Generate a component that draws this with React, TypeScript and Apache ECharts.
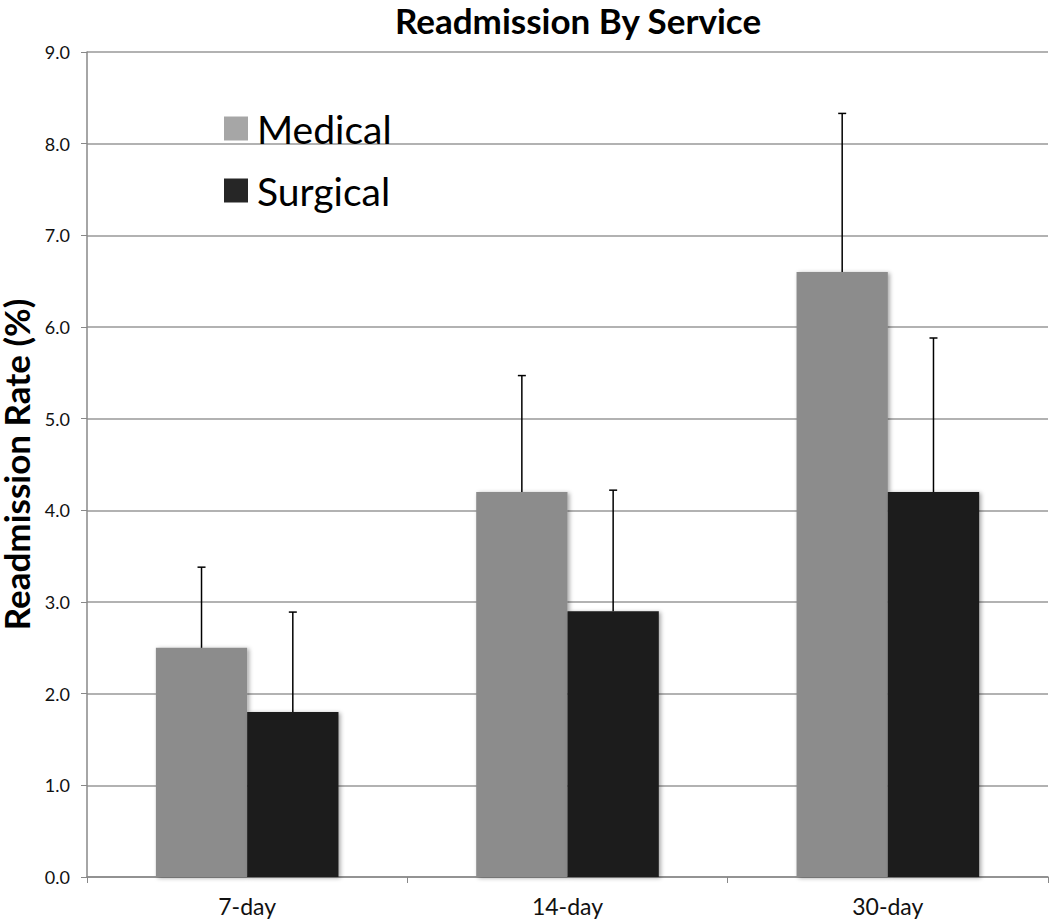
import React, { useEffect, useRef } from "react";
import * as echarts from "echarts";

const categories = ["7-day", "14-day", "30-day"];
const medical = [2.5, 4.2, 6.6];
const medicalErrTop = [3.38, 5.47, 8.33];
const surgical = [1.8, 2.9, 4.2];
const surgicalErrTop = [2.89, 4.22, 5.88];
const yTicks = [0, 1, 2, 3, 4, 5, 6, 7, 8, 9];

const FONT = "Lato";
const GAP = 0.43;

function errRender(side: number) {
  return (params: any, api: any) => {
    const x = api.value(0);
    const lo = api.coord([x, api.value(1)]);
    const hi = api.coord([x, api.value(2)]);
    const band = api.size([1, 0])[0];
    const bw = (band * (1 - GAP)) / 2;
    const cx = lo[0] + side * bw / 2;
    const cap = 4;
    return {
      type: "group",
      children: [
        { type: "line", shape: { x1: cx, y1: lo[1], x2: cx, y2: hi[1] }, style: { stroke: "#000", lineWidth: 1.5 } },
        { type: "line", shape: { x1: cx - cap, y1: hi[1], x2: cx + cap, y2: hi[1] }, style: { stroke: "#000", lineWidth: 1.5 } },
      ],
    };
  };
}

export default function App() {
  const ref = useRef<HTMLDivElement>(null);
  useEffect(() => {
    if (!ref.current) return;
    const chart = echarts.init(ref.current, null, { renderer: "svg" });
    chart.setOption({
      animation: false,
      backgroundColor: "#fff",
      textStyle: { fontFamily: FONT },
      title: {
        text: "Readmission By Service",
        left: 578,
        top: 2,
        padding: 0,
        textAlign: "center",
        textStyle: { fontFamily: FONT, fontWeight: "bold", fontSize: 35, color: "#000" },
      },
      legend: {
        orient: "vertical",
        left: 219,
        top: 104,
        itemWidth: 24,
        itemHeight: 24,
        itemGap: 23,
        icon: "rect",
        textStyle: { fontFamily: FONT, fontSize: 39, color: "#000", padding: [0, 0, 0, 4] },
        data: [
          { name: "Medical", itemStyle: { color: "#a6a6a6" } },
          { name: "Surgical", itemStyle: { color: "#262626" } },
        ],
      },
      grid: { left: 87, right: 2, top: 52, bottom: 44, containLabel: false, outerBoundsMode: "none" },
      xAxis: {
        type: "category",
        data: categories,
        axisLine: { lineStyle: { color: "#888", width: 1.5 } },
        axisTick: { show: true, length: 6, lineStyle: { color: "#888" } },
        axisLabel: { fontFamily: FONT, fontSize: 23, color: "#111", margin: 17 },
      },
      yAxis: {
        type: "value",
        min: 0,
        max: yTicks[yTicks.length - 1],
        interval: 1,
        name: "Readmission Rate (%)",
        nameLocation: "middle",
        nameRotate: 90,
        nameGap: 41,
        nameTextStyle: { fontFamily: FONT, fontWeight: "bold", fontSize: 35, lineHeight: 36, color: "#000" },
        axisLine: { show: true, lineStyle: { color: "#888", width: 1.5 } },
        axisTick: { show: true, length: 6, lineStyle: { color: "#888" } },
        axisLabel: { fontFamily: FONT, fontSize: 18, color: "#111", margin: 17, formatter: (v: number) => v.toFixed(1) },
        splitLine: { lineStyle: { color: "#999", width: 1.5 } },
      },
      series: [
        {
          name: "Medical",
          type: "bar",
          data: medical,
          barGap: "0%",
          barCategoryGap: GAP * 100 + "%",
          itemStyle: { color: "#8c8c8c", shadowBlur: 4, shadowColor: "rgba(0,0,0,0.35)", shadowOffsetX: 2, shadowOffsetY: 1 },
        },
        {
          name: "Surgical",
          type: "bar",
          data: surgical,
          itemStyle: { color: "#1a1a1a", shadowBlur: 4, shadowColor: "rgba(0,0,0,0.35)", shadowOffsetX: 2, shadowOffsetY: 1 },
        },
        {
          name: "Medical err",
          type: "custom",
          renderItem: errRender(-1),
          encode: { x: 0, y: [1, 2] },
          data: categories.map((_, i) => [i, medical[i], medicalErrTop[i]]),
          z: 5,
        },
        {
          name: "Surgical err",
          type: "custom",
          renderItem: errRender(1),
          encode: { x: 0, y: [1, 2] },
          data: categories.map((_, i) => [i, surgical[i], surgicalErrTop[i]]),
          z: 5,
        },
      ],
    });
    return () => chart.dispose();
  }, []);
  return <div ref={ref} style={{ position: "fixed", left: 0, top: 0, width: 1050, height: 921 }} />;
}
